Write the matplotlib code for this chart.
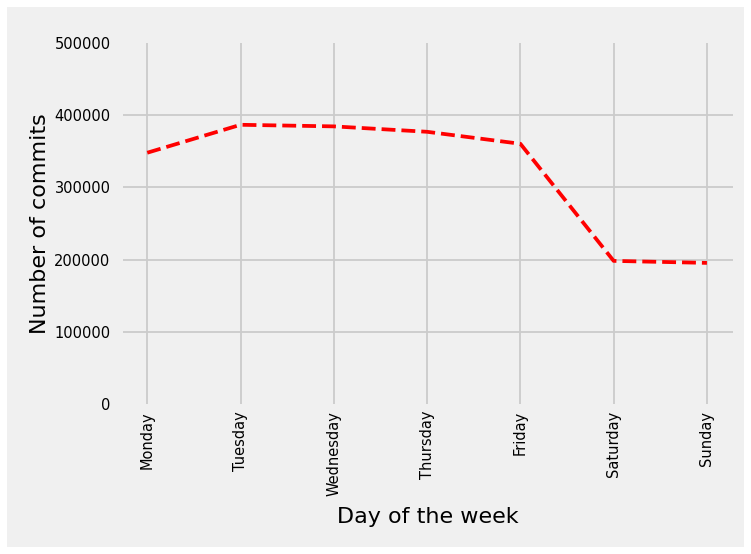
import matplotlib
matplotlib.use("Agg")
import matplotlib.pyplot as plt
from matplotlib.patches import Rectangle

# commits per weekday
days = ['Monday', 'Tuesday', 'Wednesday', 'Thursday', 'Friday', 'Saturday', 'Sunday']
commits = [348000, 386700, 384500, 377000, 360400, 198200, 195400]
yticks = [0, 100000, 200000, 300000, 400000, 500000]

plt.style.use('fivethirtyeight')

fig = plt.figure(figsize=(7.51, 5.54), dpi=100, facecolor='white')
# grey card behind the plot, white rim around it
fig.patches.append(Rectangle((7 / 751, 7 / 554), 737 / 751, 540 / 554,
                             transform=fig.transFigure, facecolor='#f0f0f0',
                             edgecolor='none', zorder=-1))
ax = fig.add_axes([0.1638, 0.2708, 0.8123, 0.6516])
ax.set_facecolor('#f0f0f0')

x = list(range(len(days)))
ax.plot(x, commits, 'r--', linewidth=2.7)

ax.set_xticks(x)
ax.set_xticklabels(days, rotation=90, fontsize=10.5)
ax.set_yticks(yticks)
ax.set_yticklabels([str(v) for v in yticks], fontsize=10.5)
ax.set_ylim(0, 500000)
ax.set_xlim(-0.26, 6.28)
ax.tick_params(axis='x', length=0, pad=5)
ax.tick_params(axis='y', length=0, pad=9)

ax.grid(True, color='#cbcbcb', linewidth=1.3)
# no grid lines along the top and bottom limits
ticks = ax.yaxis.get_major_ticks()
ticks[0].gridline.set_visible(False)
ticks[-1].gridline.set_visible(False)
for s in ax.spines.values():
    s.set_visible(False)

ax.set_xlabel('Day of the week', fontsize=16, labelpad=8)
ax.set_ylabel('Number of commits', fontsize=16, labelpad=3)

fig.savefig('out.png', dpi=100, facecolor='white')
